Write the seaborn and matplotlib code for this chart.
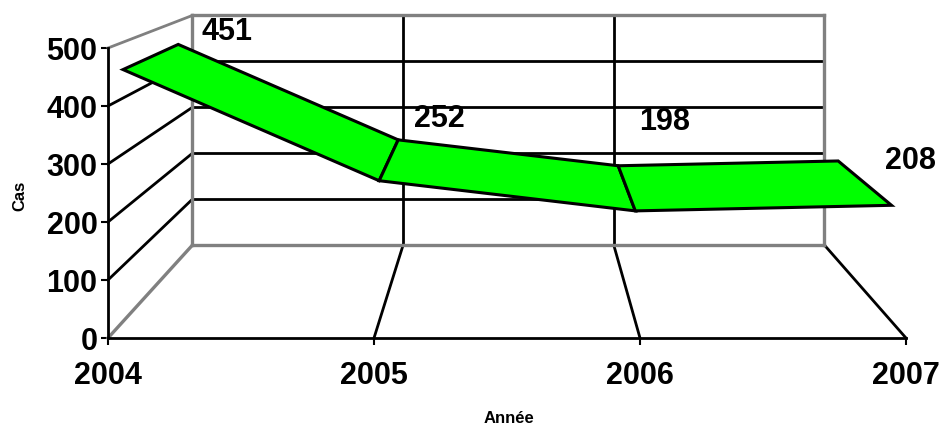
import matplotlib
matplotlib.use("Agg")
import matplotlib.pyplot as plt
import pandas as pd
import seaborn as sns

years = ["2004", "2005", "2006", "2007"]
cases = [451, 252, 198, 208]
value_ticks = [0, 100, 200, 300, 400, 500]
x_title = "Année"
y_title = "Cas"

sns.set_theme(style="ticks", rc={"xtick.major.size": 5, "ytick.major.size": 5,
                                 "xtick.major.width": 1.5, "ytick.major.width": 1.5,
                                 "xtick.color": "black", "ytick.color": "black"})
plt.rcParams["font.family"] = ["Liberation Sans", "DejaVu Sans"]

W, H = 943, 425
fig = plt.figure(figsize=(W / 100, H / 100), dpi=100, facecolor="white")
ax = fig.add_axes([108 / W, (H - 338) / H, (906 - 108) / W, 290 / H])
positions = list(range(len(years)))
ax.set_xlim(positions[0], positions[-1])
ax.set_ylim(value_ticks[0], value_ticks[-1])

# Perspective: points shrink toward a vanishing point as depth grows.
VANISH_X, VANISH_Y = 1.526, 770.0
WALL_SCALE = 0.792
RIBBON_FRONT = 0.963
RIBBON_BACK = 0.827


def project(x, y, scale):
    return VANISH_X + (x - VANISH_X) * scale, VANISH_Y + (y - VANISH_Y) * scale


def segment(p, q, color, lw, z=1):
    frame = pd.DataFrame({"x": [p[0], q[0]], "y": [p[1], q[1]]})
    sns.lineplot(data=frame, x="x", y="y", ax=ax, color=color, linewidth=lw,
                 estimator=None, sort=False, clip_on=False, zorder=z,
                 solid_capstyle="projecting")


GREY = "#808080"
x0, x1 = positions[0], positions[-1]
ymin, ymax = value_ticks[0], value_ticks[-1]

# Gridlines on the back wall and the left wall.
for v in value_ticks[1:-1]:
    segment(project(x0, v, WALL_SCALE), project(x1, v, WALL_SCALE), "black", 2.0)
    segment(project(x0, v, 1), project(x0, v, WALL_SCALE), "black", 2.0)
segment(project(x0, ymax, 1), project(x0, ymax, WALL_SCALE), GREY, 2.0, 2)

# Year gridlines running down the back wall and across the floor.
for p in positions[1:]:
    segment(project(p, ymin, 1), project(p, ymin, WALL_SCALE), "black", 2.0)
    if p != x1:
        segment(project(p, ymin, WALL_SCALE), project(p, ymax, WALL_SCALE), "black", 2.0)

# Outline of the back wall and the left floor edge.
corners = [(x0, ymin), (x1, ymin), (x1, ymax), (x0, ymax), (x0, ymin)]
for a, b in zip(corners, corners[1:]):
    segment(project(*a, WALL_SCALE), project(*b, WALL_SCALE), GREY, 2.4, 2)
segment(project(x0, ymin, 1), project(x0, ymin, WALL_SCALE), GREY, 2.4, 2)

# Ribbon: one green quad per year-to-year step.
for i in range(len(cases) - 1):
    quad = [
        project(positions[i], cases[i], RIBBON_FRONT),
        project(positions[i + 1], cases[i + 1], RIBBON_FRONT),
        project(positions[i + 1], cases[i + 1], RIBBON_BACK),
        project(positions[i], cases[i], RIBBON_BACK),
    ]
    ax.fill(*zip(*quad), facecolor="#00ff00", edgecolor="black", linewidth=2.2,
            joinstyle="miter", clip_on=False, zorder=3)

# Value labels sit just above the back edge of the ribbon.
label_offsets = [(49, 12), (41, 21), (46, 44), (72, 0)]
for p, v, off in zip(positions, cases, label_offsets):
    ax.annotate(str(v), project(p, v, RIBBON_BACK), xytext=off,
                textcoords=("offset pixels"), ha="center", va="center",
                fontsize=22, fontweight="bold", color="black",
                annotation_clip=False, zorder=4)

sns.despine(ax=ax, top=True, right=True)
for side in ("left", "bottom"):
    ax.spines[side].set_color("black")
    ax.spines[side].set_linewidth(2.0)
    ax.spines[side].set_zorder(2.5)

ax.set_xticks(positions, years)
ax.set_yticks(value_ticks)
ax.tick_params(axis="both", which="major", labelsize=22, labelcolor="black")
ax.tick_params(axis="x", pad=11.7)
ax.tick_params(axis="y", pad=2.6)
for lab in ax.get_xticklabels() + ax.get_yticklabels():
    lab.set_fontweight("bold")

ax.set_xlabel(x_title, fontsize=12, fontweight="bold", color="black", va="center")
ax.set_ylabel(y_title, fontsize=12, fontweight="bold", color="black", va="center")
ax.xaxis.set_label_coords(0.502, -0.276)
ax.yaxis.set_label_coords(-0.111, 0.49)

fig.savefig("out.png", dpi=100, facecolor="white")
